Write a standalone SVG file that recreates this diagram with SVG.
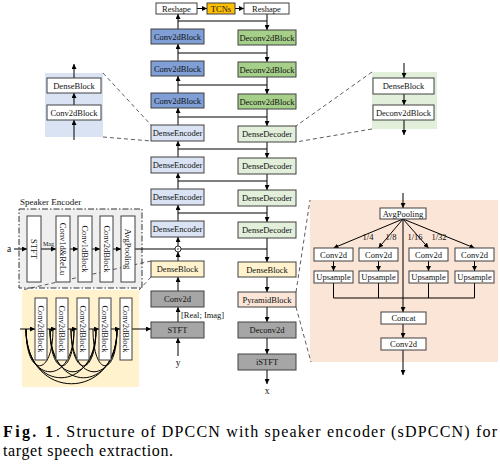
<svg xmlns="http://www.w3.org/2000/svg" width="500" height="470" viewBox="0 0 500 470">
<defs>
<marker id="ah" viewBox="0 0 6 6" refX="6" refY="3" markerWidth="5" markerHeight="5" markerUnits="userSpaceOnUse" orient="auto">
<path d="M0,0 L6,3 L0,6 z" fill="#000"/>
</marker>
<style>
.b{stroke:#404040;stroke-width:1}
.w{fill:#fff}
.blue{fill:#7f9fd6}
.green{fill:#a6cf8a}
.lb{fill:#dae3f3}
.lg{fill:#e2efda}
.yel{fill:#fff2cc}
.pch{fill:#fbe5d6}
.gry{fill:#a6a6a6}
.t{font-family:'Liberation Serif',serif;font-size:8.5px;fill:#111;text-anchor:middle}
.cap{font-family:'Liberation Serif',serif;font-size:16px;fill:#000}
.ln{stroke:#000;stroke-width:1;fill:none}
.ar{stroke:#000;stroke-width:1;fill:none;marker-end:url(#ah)}
.ds{stroke:#333;stroke-width:0.8;fill:none;stroke-dasharray:4,3}
</style>
</defs>
<rect width="500" height="470" fill="#fff"/>

<g id="inset-left"><rect x="45" y="73" width="58" height="64" class="lb"/></g>
<g id="inset-right"><rect x="372" y="72" width="65" height="57" class="lg"/></g>
<g id="speaker-region"><rect x="19" y="209" width="123" height="79" fill="#efefef" stroke="#333" stroke-width="1" stroke-dasharray="6,2,1.5,2"/>
<text x="20" y="205" class="t" style="text-anchor:start;font-size:9px">Speaker Encoder</text></g>
<g id="dense-region"><rect x="22" y="290" width="117" height="97" class="yel"/></g>
<g id="pyramid-region"><rect x="310" y="200" width="188" height="162" class="pch"/></g>

<g id="connectors">
<line x1="197" y1="8.5" x2="207" y2="8.5" class="ar"/>
<line x1="235" y1="8.5" x2="244" y2="8.5" class="ar"/>
<line x1="178" y1="29" x2="178" y2="14" class="ar"/>
<line x1="178" y1="61" x2="178" y2="44" class="ar"/>
<line x1="178" y1="93" x2="178" y2="76" class="ar"/>
<line x1="178" y1="125" x2="178" y2="108" class="ar"/>
<line x1="178" y1="157" x2="178" y2="141" class="ar"/>
<line x1="178" y1="189" x2="178" y2="173" class="ar"/>
<line x1="178" y1="221" x2="178" y2="205" class="ar"/>
<line x1="178" y1="246" x2="178" y2="237" class="ar"/>
<line x1="178" y1="261" x2="178" y2="252" class="ar"/>
<line x1="178" y1="291" x2="178" y2="277" class="ar"/>
<line x1="178" y1="322" x2="178" y2="307" class="ar"/>
<line x1="178" y1="356" x2="178" y2="338" class="ar"/>
<line x1="267" y1="14" x2="267" y2="30" class="ar"/>
<line x1="267" y1="45" x2="267" y2="62" class="ar"/>
<line x1="267" y1="77" x2="267" y2="94" class="ar"/>
<line x1="267" y1="109" x2="267" y2="126" class="ar"/>
<line x1="267" y1="142" x2="267" y2="158" class="ar"/>
<line x1="267" y1="174" x2="267" y2="190" class="ar"/>
<line x1="267" y1="206" x2="267" y2="222" class="ar"/>
<line x1="267" y1="238" x2="267" y2="262" class="ar"/>
<line x1="267" y1="277" x2="267" y2="292" class="ar"/>
<line x1="267" y1="307" x2="267" y2="322" class="ar"/>
<line x1="267" y1="338" x2="267" y2="354" class="ar"/>
<line x1="267" y1="370" x2="267" y2="384" class="ar"/>
<line x1="178" y1="21" x2="267" y2="21" class="ln"/>
<line x1="178" y1="53" x2="267" y2="53" class="ln"/>
<line x1="178" y1="85" x2="267" y2="85" class="ln"/>
<line x1="178" y1="117" x2="267" y2="117" class="ln"/>
<line x1="178" y1="149" x2="267" y2="149" class="ln"/>
<line x1="178" y1="181" x2="267" y2="181" class="ln"/>
<line x1="178" y1="213" x2="267" y2="213" class="ln"/>
<line x1="181" y1="249" x2="267" y2="249" class="ln"/>
<line x1="135" y1="249" x2="175" y2="249" class="ln"/>
<line x1="14" y1="249" x2="27" y2="249" class="ar"/>
<line x1="41" y1="249" x2="56" y2="249" class="ar"/>
<line x1="70" y1="249" x2="78" y2="249" class="ar"/>
<line x1="92" y1="249" x2="100" y2="249" class="ar"/>
<line x1="113" y1="249" x2="121" y2="249" class="ar"/>
<line x1="74" y1="140" x2="74" y2="120" class="ar"/>
<line x1="74" y1="105" x2="74" y2="93" class="ar"/>
<line x1="74" y1="78" x2="74" y2="64" class="ar"/>
<line x1="404" y1="63" x2="404" y2="78" class="ar"/>
<line x1="404" y1="94" x2="404" y2="105" class="ar"/>
<line x1="404" y1="120" x2="404" y2="135" class="ar"/>
<line x1="20" y1="329" x2="35" y2="329" class="ar"/>
<line x1="47" y1="329" x2="56" y2="329" class="ar"/>
<line x1="68" y1="329" x2="77" y2="329" class="ar"/>
<line x1="89" y1="329" x2="99" y2="329" class="ar"/>
<line x1="111" y1="329" x2="120" y2="329" class="ar"/>
<line x1="132" y1="329" x2="151" y2="329" class="ar"/>
<path class="ln" d="M26,329 C26,378 53,378 53,329"/>
<path class="ln" d="M26,329 C26,386 74,386 74,329"/>
<path class="ln" d="M26,329 C26,394 96,394 96,329"/>
<path class="ln" d="M26,329 C26,402 117,402 117,329"/>
<path class="ln" d="M50,329 C50,378 74,378 74,329"/>
<path class="ln" d="M50,329 C50,386 96,386 96,329"/>
<path class="ln" d="M50,329 C50,394 117,394 117,329"/>
<path class="ln" d="M71,329 C71,378 96,378 96,329"/>
<path class="ln" d="M71,329 C71,386 117,386 117,329"/>
<path class="ln" d="M93,329 C93,378 117,378 117,329"/>
<line x1="403" y1="193" x2="403" y2="208" class="ar"/>
<line x1="403" y1="219" x2="333.5" y2="248" class="ar"/>
<line x1="403" y1="219" x2="378.5" y2="248" class="ar"/>
<line x1="403" y1="219" x2="428.5" y2="248" class="ar"/>
<line x1="403" y1="219" x2="474.5" y2="248" class="ar"/>
<line x1="403" y1="219" x2="403" y2="312" class="ar"/>
<line x1="333.5" y1="261" x2="333.5" y2="271" class="ar"/>
<line x1="378.5" y1="261" x2="378.5" y2="271" class="ar"/>
<line x1="428.5" y1="261" x2="428.5" y2="271" class="ar"/>
<line x1="474.5" y1="261" x2="474.5" y2="271" class="ar"/>
<polyline class="ln" points="333.5,283 333.5,298 474.5,298 474.5,283"/>
<line x1="378.5" y1="283" x2="378.5" y2="298" class="ln"/>
<line x1="428.5" y1="283" x2="428.5" y2="298" class="ln"/>
<line x1="403" y1="324" x2="403" y2="338" class="ar"/>
<line x1="403" y1="350" x2="403" y2="375" class="ar"/>
<line x1="103" y1="73" x2="151" y2="125" class="ds"/>
<line x1="103" y1="137" x2="151" y2="141" class="ds"/>
<line x1="372" y1="72" x2="296" y2="126" class="ds"/>
<line x1="372" y1="129" x2="296" y2="142" class="ds"/>
<line x1="151" y1="261" x2="22" y2="290" class="ds"/>
<line x1="151" y1="277" x2="139" y2="290" class="ds"/>
<line x1="296" y1="292" x2="310" y2="200" class="ds"/>
<line x1="296" y1="307" x2="311" y2="362" class="ds"/>
</g>

<g id="combine"><circle cx="178" cy="249" r="3" fill="#fff" stroke="#000" stroke-width="0.8"/><circle cx="178" cy="249" r="0.7" fill="#000"/></g>

<g id="reshape1"><rect x="156" y="3" width="41" height="11" class="b w"/><text x="176.5" y="11.5" class="t">Reshape</text></g>
<g id="tcns"><rect x="207" y="3" width="28" height="11" class="b" fill="#ffc000"/><text x="221" y="11.5" class="t">TCNs</text></g>
<g id="reshape2"><rect x="244" y="3" width="45" height="11" class="b w"/><text x="266.5" y="11.5" class="t">Reshape</text></g>

<g id="conv2dblock1"><rect x="151" y="29" width="53" height="15" class="b blue"/><text x="177.5" y="39.5" class="t">Conv2dBlock</text></g>
<g id="conv2dblock2"><rect x="151" y="61" width="53" height="15" class="b blue"/><text x="177.5" y="71.5" class="t">Conv2dBlock</text></g>
<g id="conv2dblock3"><rect x="151" y="93" width="53" height="15" class="b blue"/><text x="177.5" y="103.5" class="t">Conv2dBlock</text></g>
<g id="denseenc1"><rect x="151" y="125" width="53" height="16" class="b lb"/><text x="177.5" y="136" class="t">DenseEncoder</text></g>
<g id="denseenc2"><rect x="151" y="157" width="53" height="16" class="b lb"/><text x="177.5" y="168" class="t">DenseEncoder</text></g>
<g id="denseenc3"><rect x="151" y="189" width="53" height="16" class="b lb"/><text x="177.5" y="200" class="t">DenseEncoder</text></g>
<g id="denseenc4"><rect x="151" y="221" width="53" height="16" class="b lb"/><text x="177.5" y="232" class="t">DenseEncoder</text></g>
<g id="denseblockL"><rect x="151" y="261" width="53" height="16" class="b yel"/><text x="177.5" y="272" class="t">DenseBlock</text></g>
<g id="conv2d"><rect x="151" y="291" width="53" height="16" class="b gry"/><text x="177.5" y="302" class="t">Conv2d</text></g>
<g id="stft"><rect x="151" y="322" width="53" height="16" class="b gry"/><text x="177.5" y="333" class="t">STFT</text></g>
<text x="181" y="318" class="t" style="text-anchor:start">[Real; Imag]</text>
<text x="178" y="366" class="t" style="font-size:9.5px">y</text>

<g id="deconv2dblock1"><rect x="238" y="30" width="58" height="15" class="b green"/><text x="267" y="40.5" class="t">Deconv2dBlock</text></g>
<g id="deconv2dblock2"><rect x="238" y="62" width="58" height="15" class="b green"/><text x="267" y="72.5" class="t">Deconv2dBlock</text></g>
<g id="deconv2dblock3"><rect x="238" y="94" width="58" height="15" class="b green"/><text x="267" y="104.5" class="t">Deconv2dBlock</text></g>
<g id="densedec1"><rect x="238" y="126" width="58" height="16" class="b lg"/><text x="267" y="137" class="t">DenseDecoder</text></g>
<g id="densedec2"><rect x="238" y="158" width="58" height="16" class="b lg"/><text x="267" y="169" class="t">DenseDecoder</text></g>
<g id="densedec3"><rect x="238" y="190" width="58" height="16" class="b lg"/><text x="267" y="201" class="t">DenseDecoder</text></g>
<g id="densedec4"><rect x="238" y="222" width="58" height="16" class="b lg"/><text x="267" y="233" class="t">DenseDecoder</text></g>
<g id="denseblockR"><rect x="238" y="262" width="58" height="15" class="b yel"/><text x="267" y="272.5" class="t">DenseBlock</text></g>
<g id="pyramidblock"><rect x="238" y="292" width="58" height="15" class="b pch"/><text x="267" y="302.5" class="t">PyramidBlock</text></g>
<g id="deconv2d"><rect x="238" y="322" width="58" height="16" class="b gry"/><text x="267" y="333" class="t">Deconv2d</text></g>
<g id="istft"><rect x="238" y="354" width="58" height="16" class="b gry"/><text x="267" y="365" class="t">iSTFT</text></g>
<text x="267" y="394" class="t" style="font-size:9.5px">x</text>

<g id="inset-denseblock"><rect x="47" y="78" width="54" height="15" class="b w"/><text x="74" y="88.5" class="t">DenseBlock</text></g>
<g id="inset-conv2dblock"><rect x="47" y="105" width="54" height="15" class="b w"/><text x="74" y="115.5" class="t">Conv2dBlock</text></g>

<g id="inset-denseblock2"><rect x="373" y="78" width="61" height="16" class="b w"/><text x="403.5" y="89" class="t">DenseBlock</text></g>
<g id="inset-deconv2dblock"><rect x="373" y="105" width="61" height="15" class="b w"/><text x="403.5" y="115.5" class="t">Deconv2dBlock</text></g>

<text x="9" y="252" class="t" style="font-size:9.5px">a</text>
<text x="43" y="246" class="t" style="text-anchor:start;font-size:6px">Mag</text>
<g id="se-stft"><rect x="27" y="216" width="14" height="66" class="b w"/><text transform="translate(34,249) rotate(90)" y="3" class="t">STFT</text></g>
<g id="se-conv1drelu"><rect x="56" y="216" width="14" height="66" class="b w"/><text transform="translate(63,249) rotate(90)" y="3" class="t">Conv1d&amp;ReLu</text></g>
<g id="se-conv1dblock"><rect x="78" y="216" width="14" height="66" class="b w"/><text transform="translate(85,249) rotate(90)" y="3" class="t">Conv1dBlock</text></g>
<g id="se-conv2dblock"><rect x="100" y="216" width="13" height="66" class="b w"/><text transform="translate(106.5,249) rotate(90)" y="3" class="t">Conv2dBlock</text></g>
<g id="se-avgpooling"><rect x="121" y="216" width="14" height="66" class="b w"/><text transform="translate(128,249) rotate(90)" y="3" class="t">AvgPooling</text></g>

<g id="db-c1"><rect x="35" y="298" width="12" height="62" class="b w"/><text transform="translate(41,329) rotate(90)" y="3" class="t">Conv2dBlock</text></g>
<g id="db-c2"><rect x="56" y="298" width="12" height="62" class="b w"/><text transform="translate(62,329) rotate(90)" y="3" class="t">Conv2dBlock</text></g>
<g id="db-c3"><rect x="77" y="298" width="12" height="62" class="b w"/><text transform="translate(83,329) rotate(90)" y="3" class="t">Conv2dBlock</text></g>
<g id="db-c4"><rect x="99" y="298" width="12" height="62" class="b w"/><text transform="translate(105,329) rotate(90)" y="3" class="t">Conv2dBlock</text></g>
<g id="db-c5"><rect x="120" y="298" width="12" height="62" class="b w"/><text transform="translate(126,329) rotate(90)" y="3" class="t">Conv2dBlock</text></g>

<g id="py-avgpool"><rect x="380" y="208" width="46" height="11" class="b w"/><text x="403" y="216.5" class="t">AvgPooling</text></g>
<text x="368" y="240" class="t">1/4</text>
<text x="391" y="240" class="t">1/8</text>
<text x="415" y="240" class="t">1/16</text>
<text x="439" y="240" class="t">1/32</text>
<g id="py-conv1"><rect x="314" y="248" width="39" height="13" class="b w"/><text x="333.5" y="257.5" class="t">Conv2d</text></g>
<g id="py-conv2"><rect x="359" y="248" width="39" height="13" class="b w"/><text x="378.5" y="257.5" class="t">Conv2d</text></g>
<g id="py-conv3"><rect x="409" y="248" width="39" height="13" class="b w"/><text x="428.5" y="257.5" class="t">Conv2d</text></g>
<g id="py-conv4"><rect x="455" y="248" width="39" height="13" class="b w"/><text x="474.5" y="257.5" class="t">Conv2d</text></g>
<g id="py-up1"><rect x="314" y="271" width="39" height="12" class="b w"/><text x="333.5" y="280" class="t">Upsample</text></g>
<g id="py-up2"><rect x="359" y="271" width="39" height="12" class="b w"/><text x="378.5" y="280" class="t">Upsample</text></g>
<g id="py-up3"><rect x="409" y="271" width="39" height="12" class="b w"/><text x="428.5" y="280" class="t">Upsample</text></g>
<g id="py-up4"><rect x="455" y="271" width="39" height="12" class="b w"/><text x="474.5" y="280" class="t">Upsample</text></g>
<g id="py-concat"><rect x="381" y="312" width="45" height="12" class="b w"/><text x="403.5" y="321" class="t">Concat</text></g>
<g id="py-conv2d"><rect x="381" y="338" width="45" height="12" class="b w"/><text x="403.5" y="347" class="t">Conv2d</text></g>

<text x="3" y="437" class="cap" font-weight="bold" textLength="50" lengthAdjust="spacing">Fig. 1</text>
<text x="56" y="437" class="cap" textLength="441" lengthAdjust="spacing">.  Structure of DPCCN with speaker encoder (sDPCCN) for</text>
<text x="3" y="456" class="cap" textLength="170" lengthAdjust="spacing">target speech extraction.</text>
</svg>
